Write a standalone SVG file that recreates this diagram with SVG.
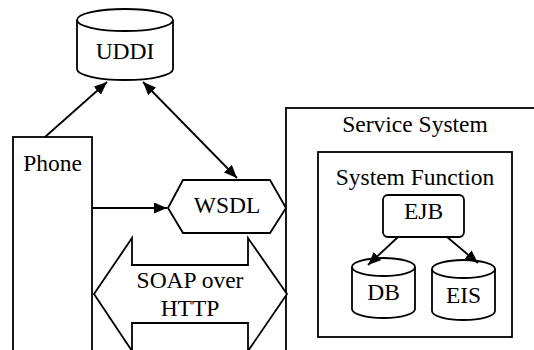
<svg xmlns="http://www.w3.org/2000/svg" width="534" height="350" viewBox="0 0 534 350">
<style>
.s{fill:#fff;stroke:#000;stroke-width:1.8}
.n{fill:none;stroke:#000;stroke-width:1.8}
.c{fill:none;stroke:#000;stroke-width:1.8}
</style>
<defs>
<marker id="ah" markerUnits="userSpaceOnUse" markerWidth="14" markerHeight="11" viewBox="0 0 14 11" refX="13" refY="5.5" orient="auto-start-reverse">
<path d="M0,0 L13,5.5 L0,11 z" fill="#000"/>
</marker>
</defs>
<g font-family="Times New Roman, Liberation Serif, DejaVu Serif, serif" font-size="23.5" text-anchor="middle" fill="#000">
<g id="phone">
<rect class="s" x="13" y="137" width="79" height="230"/>
<text x="52.5" y="171">Phone</text>
</g>
<g id="service-system">
<rect class="s" x="286" y="108" width="260" height="260"/>
<text x="415" y="132">Service System</text>
</g>
<g id="system-function">
<rect class="s" x="318" y="152" width="194" height="185"/>
<text x="415" y="185">System Function</text>
</g>
<g id="uddi">
<path class="s" d="M77,20 A48,11 0 0 1 173,20 L173,69 A48,11 0 0 1 77,69 Z"/>
<path class="n" d="M77,20 A48,11 0 0 0 173,20"/>
<text x="125" y="59">UDDI</text>
</g>
<g id="wsdl">
<polygon class="s" points="168,208 183,180 270,180 286,208 270,233 183,233"/>
<text x="227" y="213">WSDL</text>
</g>
<g id="soap">
<polygon class="s" points="94,294 132,238 132,265 248,265 248,238 287,294 248,351 248,323 132,323 132,351"/>
<text x="190" y="288">SOAP over</text>
<text x="190" y="316">HTTP</text>
</g>
<g id="ejb">
<rect class="s" x="383" y="195" width="81" height="42" rx="5"/>
<text x="423.5" y="219">EJB</text>
</g>
<g id="db">
<path class="s" d="M352,267 A31.5,9 0 0 1 415,267 L415,309 A31.5,9 0 0 1 352,309 Z"/>
<path class="n" d="M352,267 A31.5,9 0 0 0 415,267"/>
<text x="383.5" y="300">DB</text>
</g>
<g id="eis">
<path class="s" d="M432,269 A31.5,9 0 0 1 495,269 L495,311 A31.5,9 0 0 1 432,311 Z"/>
<path class="n" d="M432,269 A31.5,9 0 0 0 495,269"/>
<text x="463.5" y="303">EIS</text>
</g>
</g>
<g id="connectors">
<line class="c" x1="45" y1="137" x2="107" y2="82" marker-end="url(#ah)"/>
<line class="c" x1="143" y1="82" x2="237" y2="178" marker-start="url(#ah)" marker-end="url(#ah)"/>
<line class="c" x1="92" y1="208" x2="167" y2="208" marker-end="url(#ah)"/>
<line class="c" x1="398" y1="237" x2="368" y2="265" marker-end="url(#ah)"/>
<line class="c" x1="447" y1="237" x2="478" y2="263" marker-end="url(#ah)"/>
</g>
</svg>
